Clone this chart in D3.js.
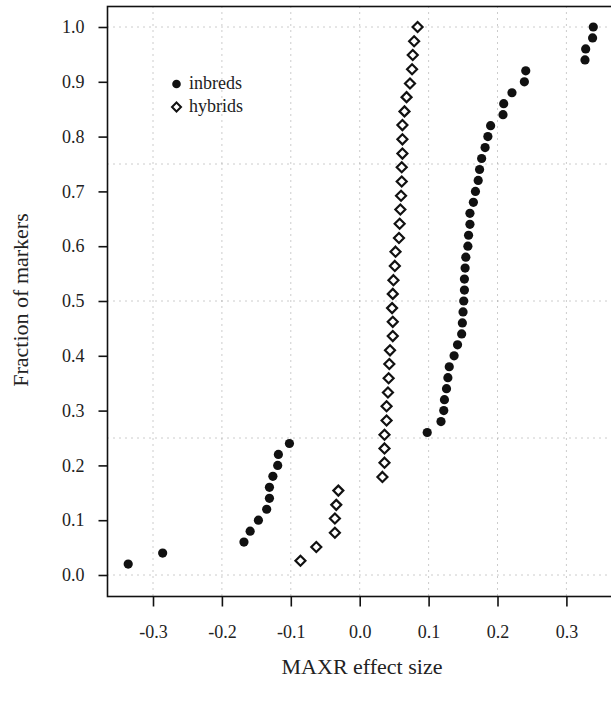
<!DOCTYPE html>
<html><head><meta charset="utf-8">
<script src="https://cdn.jsdelivr.net/npm/d3@7"></script>
<style>body{margin:0;background:#fff}svg{display:block}</style>
</head><body>
<svg id="c" width="611" height="702"></svg>
<script>
// ---- data ----
const inbredX = [-0.336,-0.286,-0.168,-0.159,-0.147,-0.135,-0.131,-0.131,-0.126,-0.119,-0.118,-0.102,
  0.098,0.118,0.122,0.123,0.126,0.128,0.130,0.137,0.142,0.148,
  0.149,0.150,0.151,0.152,0.152,0.153,0.154,0.157,0.158,0.160,
  0.160,0.165,0.168,0.172,0.174,0.177,0.182,0.186,0.190,0.208,
  0.209,0.221,0.239,0.241,0.327,0.328,0.338,0.339];
const inbredFrac = [0.02,0.04,0.06,0.08,0.10,0.12,0.14,0.16,0.18,0.20,0.22,0.24,0.26,0.28,0.30,0.32,0.34,0.36,0.38,0.40,
  0.42,0.44,0.46,0.48,0.50,0.52,0.54,0.56,0.58,0.60,0.62,0.64,0.66,0.68,0.70,0.72,0.74,0.76,0.78,0.80,
  0.82,0.84,0.86,0.88,0.90,0.92,0.94,0.96,0.98,1.00];
const hybridX = [-0.086,-0.063,-0.036,-0.036,-0.034,-0.031,0.033,0.036,0.036,0.036,
  0.039,0.039,0.041,0.042,0.043,0.044,0.048,0.048,0.047,0.048,
  0.049,0.051,0.052,0.057,0.058,0.059,0.060,0.061,0.061,0.062,
  0.062,0.062,0.065,0.068,0.073,0.076,0.077,0.079,0.084];
const hybridFrac = [0.026,0.051,0.077,0.103,0.128,0.154,0.179,0.205,0.231,0.256,0.282,0.308,0.333,
  0.359,0.385,0.410,0.436,0.462,0.487,0.513,0.538,0.564,0.590,0.615,0.641,0.667,
  0.692,0.718,0.744,0.769,0.795,0.821,0.846,0.872,0.897,0.923,0.949,0.974,1.000];
const xTicks = [-0.3,-0.2,-0.1,0.0,0.1,0.2,0.3];
const yTicks = [0.0,0.1,0.2,0.3,0.4,0.5,0.6,0.7,0.8,0.9,1.0];
const gridY = [0,0.25,0.5,0.75,1.0];
const seriesNames = ["inbreds","hybrids"];
const xTitle = "MAXR effect size";
const yTitle = "Fraction of markers";

// ---- layout ----
const svg = d3.select("#c");
const FONT = "'Liberation Serif','Times New Roman',serif";
const x = d3.scaleLinear().domain([-0.3,0.3]).range([153,566.4]);
const y = d3.scaleLinear().domain([0,1]).range([575,27]);
const fL = 107.5, fR = 625, fT = 6.5, fB = 596.5;

// grid
const g = svg.append("g");
g.selectAll("line.vg").data(xTicks).join("line")
  .attr("x1",d=>x(d)).attr("x2",d=>x(d)).attr("y1",fT).attr("y2",fB)
  .attr("stroke","#999").attr("stroke-width",1).attr("stroke-dasharray","1,5");
g.selectAll("line.hg").data(gridY).join("line")
  .attr("x1",fL).attr("x2",fR).attr("y1",d=>y(d)).attr("y2",d=>y(d))
  .attr("stroke","#999").attr("stroke-width",1).attr("stroke-dasharray","1,5");

// frame
svg.append("rect").attr("x",fL).attr("y",fT).attr("width",fR-fL).attr("height",fB-fT)
  .attr("fill","none").attr("stroke","#111").attr("stroke-width",1.6);

// axes
const yAxis = svg.append("g").attr("transform",`translate(${fL},0)`)
  .call(d3.axisLeft(y).tickValues(yTicks).tickFormat(d3.format(".1f")).tickSize(9).tickPadding(14));
const xAxis = svg.append("g").attr("transform",`translate(0,${fB})`)
  .call(d3.axisBottom(x).tickValues(xTicks).tickFormat(d3.format(".1f")).tickSize(10).tickPadding(19));
[yAxis,xAxis].forEach(a=>{
  a.select(".domain").remove();
  a.selectAll(".tick line").attr("stroke","#111").attr("stroke-width",1.6);
  a.selectAll(".tick text").attr("font-family",FONT).attr("font-size",18).attr("fill","#222")
    .text(d=>d3.format(".1f")(d).replace("\u2212","-"));
});

// titles
svg.append("text").attr("x",362).attr("y",674).attr("text-anchor","middle")
  .attr("font-family",FONT).attr("font-size",22).attr("fill","#222").text(xTitle);
svg.append("text").attr("transform","translate(28,300) rotate(-90)").attr("text-anchor","middle")
  .attr("font-family",FONT).attr("font-size",22).attr("fill","#222").text(yTitle);

// marks
const diamond = (cx,cy,r)=>`M${cx},${cy-r}L${cx+r},${cy}L${cx},${cy+r}L${cx-r},${cy}Z`;
const inbreds = inbredX.map((v,i)=>({x:v,f:inbredFrac[i]}));
const hybrids = hybridX.map((v,i)=>({x:v,f:hybridFrac[i]}));
svg.append("g").selectAll("path").data(hybrids).join("path")
  .attr("d",d=>diamond(x(d.x),y(d.f),5))
  .attr("fill","#fff").attr("stroke","#111").attr("stroke-width",2.2);
svg.append("g").selectAll("circle").data(inbreds).join("circle")
  .attr("cx",d=>x(d.x)).attr("cy",d=>y(d.f)).attr("r",4.6).attr("fill","#111");

// legend
const lg = svg.append("g");
lg.append("circle").attr("cx",176.5).attr("cy",84).attr("r",4.3).attr("fill","#111");
lg.append("path").attr("d",diamond(176.5,107,4.5)).attr("fill","#fff").attr("stroke","#111").attr("stroke-width",2);
lg.selectAll("text").data(seriesNames).join("text")
  .attr("x",189).attr("y",(d,i)=>89+i*23)
  .attr("font-family",FONT).attr("font-size",18).attr("fill","#222").text(d=>d);
</script>
</body></html>
